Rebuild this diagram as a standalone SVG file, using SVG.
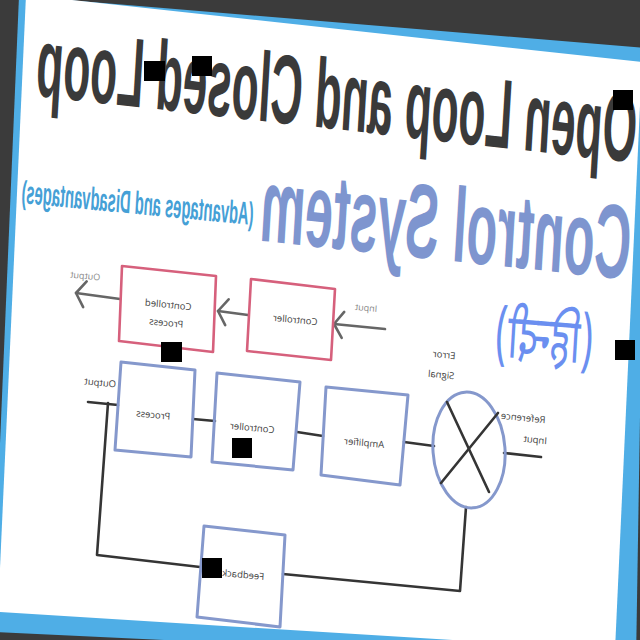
<svg xmlns="http://www.w3.org/2000/svg" width="640" height="640" viewBox="0 0 640 640">
<defs>
<style>
.pink{fill:none;stroke:#d6607c;stroke-width:2.6;stroke-linejoin:round}
.blue{fill:none;stroke:#8598cc;stroke-width:3;stroke-linejoin:round}
.wire{fill:none;stroke:#353535;stroke-width:2.6;stroke-linecap:round;stroke-linejoin:round}
.arr{fill:none;stroke:#666;stroke-width:2.6;stroke-linecap:round}
.lbl{font-family:"Open Sans","Liberation Sans",sans-serif;font-size:9.5px;fill:#444;text-anchor:middle}
.lbl2{font-family:"Open Sans","Liberation Sans",sans-serif;font-size:9px;fill:#888;text-anchor:middle}
.big{font-family:"Liberation Sans",Arial,sans-serif;font-weight:bold;text-anchor:middle}
.occ{fill:#000}
</style>
<marker id="chev" viewBox="-12 -16 16 32" markerWidth="16" markerHeight="32" refX="0" refY="0" orient="auto" markerUnits="userSpaceOnUse">
<path d="M-9,-13 L0,0 L-9,13" fill="none" stroke="#666" stroke-width="2.6" stroke-linecap="round" stroke-linejoin="round"/>
</marker>
</defs>
<rect x="0" y="0" width="640" height="640" fill="#3b3b3b"/>
<polygon points="19,-4 646,48 636,662 -8,632" fill="#4faee6"/>
<polygon points="26,-5 642,62 615,650 -2,612" fill="#ffffff"/>

<g id="title">
<text class="big" font-size="98" fill="#3a3a3a" textLength="600" lengthAdjust="spacingAndGlyphs" transform="matrix(-1 -0.112 -0.06 1 335 129)">Open Loop and Closed Loop</text>
</g>
<g id="subtitle">
<text class="big" font-size="105" fill="#7e95cf" textLength="370" lengthAdjust="spacingAndGlyphs" transform="matrix(-1 -0.105 -0.06 1 444 260)">Control System</text>
</g>
<g id="advantages">
<text class="big" font-size="32" fill="#45a0d6" textLength="232" lengthAdjust="spacingAndGlyphs" transform="matrix(-1 -0.095 -0.06 1 137 214)">(Advantages and Disadvantages)</text>
</g>
<g id="hindi">
<text font-family="'Noto Sans Devanagari','Noto Sans',sans-serif" font-size="62" fill="#6b8ff0" text-anchor="middle" textLength="99" lengthAdjust="spacingAndGlyphs" transform="matrix(-1 -0.08 -0.06 1 543 360)">(हिन्दी)</text>
</g>

<g id="connectors">
<line class="arr" x1="385" y1="329" x2="334" y2="324" marker-end="url(#chev)"/>
<line class="arr" x1="248" y1="315" x2="218" y2="311" marker-end="url(#chev)"/>
<line class="arr" x1="120" y1="299" x2="76" y2="293" marker-end="url(#chev)"/>
<line class="wire" x1="88" y1="402" x2="118" y2="405"/>
<polyline class="wire" points="108,403 97,555 200,567"/>
<polyline class="wire" points="283,574 460,591 466,507"/>
<line class="wire" x1="193" y1="419" x2="215" y2="421"/>
<line class="wire" x1="297" y1="432" x2="323" y2="436"/>
<line class="wire" x1="404" y1="442" x2="434" y2="446"/>
<line class="wire" x1="504" y1="453" x2="541" y2="457"/>
</g>

<g id="open-input-label"><text class="lbl2" transform="matrix(-1 -0.1 -0.07 1 366 311)">Input</text></g>
<g id="open-output-label"><text class="lbl2" transform="matrix(-1 -0.1 -0.07 1 85 279)">Output</text></g>

<g id="open-controller">
<polygon class="pink" points="251,279 335,289 331,360 247,351"/>
<text class="lbl" transform="matrix(-1 -0.1 -0.07 1 295 323)">Controller</text>
</g>
<g id="open-controlled-process">
<polygon class="pink" points="122,266 216,276 213,352 119,341"/>
<text class="lbl" transform="matrix(-1 -0.1 -0.07 1 168 308)">Controlled</text>
<text class="lbl" transform="matrix(-1 -0.1 -0.07 1 166 326)">Process</text>
</g>

<g id="closed-output-label"><text class="lbl" transform="matrix(-1 -0.1 -0.07 1 100 386)">Output</text></g>
<g id="process">
<polygon class="blue" points="121,362 195,370 191,457 115,450"/>
<text class="lbl" transform="matrix(-1 -0.1 -0.07 1 153 418)">Process</text>
</g>
<g id="controller">
<polygon class="blue" points="217,373 300,382 293,470 212,462"/>
<text class="lbl" transform="matrix(-1 -0.1 -0.07 1 252 431)">Controller</text>
</g>
<g id="amplifier">
<polygon class="blue" points="326,387 408,395 400,485 321,475"/>
<text class="lbl" transform="matrix(-1 -0.1 -0.07 1 364 446)">Amplifier</text>
</g>
<g id="comparator">
<ellipse class="blue" cx="469" cy="450" rx="36" ry="58" transform="rotate(-4 469 450)"/>
<line class="wire" x1="447" y1="402" x2="489" y2="492"/>
<line class="wire" x1="498" y1="413" x2="441" y2="483"/>
<text class="lbl" transform="matrix(-1 -0.1 -0.07 1 444 358)">Error</text>
<text class="lbl" transform="matrix(-1 -0.1 -0.07 1 441 378)">Signal</text>
</g>
<g id="reference-input-label">
<text class="lbl" transform="matrix(-1 -0.1 -0.07 1 523 421)">Reference</text>
<text class="lbl" transform="matrix(-1 -0.1 -0.07 1 535 443)">Input</text>
</g>
<g id="feedback">
<polygon class="blue" points="204,526 285,535 280,627 197,617"/>
<text class="lbl" transform="matrix(-1 -0.1 -0.07 1 243 578)">Feedback</text>
</g>

<g id="occluders">
<rect class="occ" x="144" y="61" width="21" height="20"/>
<rect class="occ" x="192" y="56" width="20" height="20"/>
<rect class="occ" x="613" y="90" width="20" height="20"/>
<rect class="occ" x="161" y="342" width="21" height="20"/>
<rect class="occ" x="232" y="438" width="20" height="20"/>
<rect class="occ" x="615" y="340" width="20" height="20"/>
<rect class="occ" x="202" y="558" width="20" height="20"/>
</g>
</svg>
